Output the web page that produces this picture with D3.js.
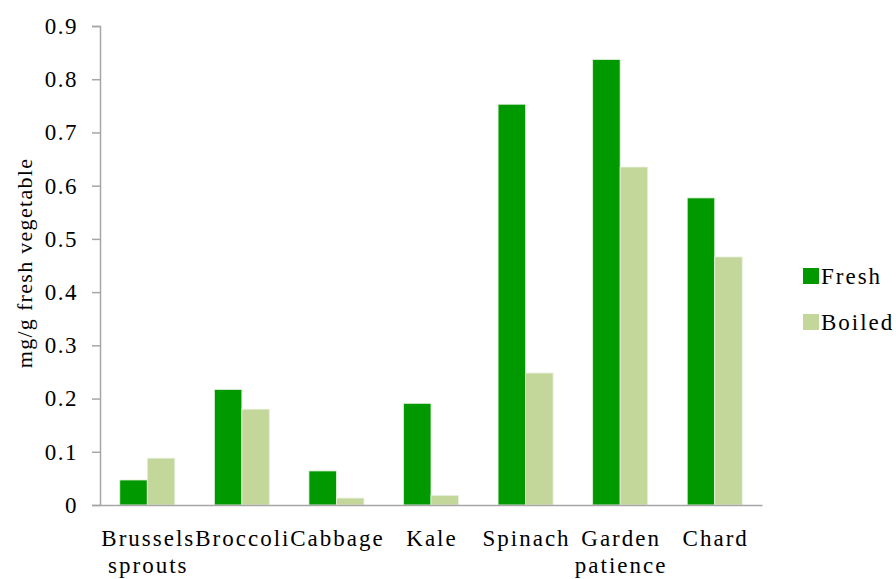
<!DOCTYPE html>
<html>
<head>
<meta charset="utf-8">
<script src="https://cdn.jsdelivr.net/npm/d3@7/dist/d3.min.js"></script>
<style>
  body { margin: 0; background: #fff; }
</style>
</head>
<body>
<svg id="chart" width="896" height="579"></svg>
<script>
// Vegetable categories (multi-line labels split on "\n")
const categories = ["Brussels\nsprouts", "Broccoli", "Cabbage", "Kale", "Spinach", "Garden\npatience", "Chard"];
const seriesNames = ["Fresh", "Boiled"];
const freshValues = [0.047, 0.217, 0.064, 0.191, 0.753, 0.837, 0.577];
const boiledValues = [0.088, 0.180, 0.013, 0.018, 0.248, 0.635, 0.466];
const yTicks = [0, 0.1, 0.2, 0.3, 0.4, 0.5, 0.6, 0.7, 0.8, 0.9];
const yTitle = "mg/g fresh vegetable";

const colors = { Fresh: "#009900", Boiled: "#c4d79b" };
const serif = "'Liberation Serif', 'DejaVu Serif', 'Times New Roman', serif";

const svg = d3.select("#chart");
const plotLeft = 100, plotRight = 762, plotTop = 26, plotBottom = 505;

const x0 = d3.scaleBand().domain(categories).range([plotLeft, plotRight]).padding(0);
const x1 = d3.scaleBand().domain(seriesNames).range([0, x0.bandwidth()])
  .paddingInner(0).paddingOuter(0.72);
const y = d3.scaleLinear().domain([0, 0.9]).range([plotBottom, plotTop]);

const rows = categories.map((c, i) => ({ cat: c, Fresh: freshValues[i], Boiled: boiledValues[i] }));

// Bars
const groups = svg.append("g").selectAll("g").data(rows).join("g")
  .attr("transform", d => `translate(${x0(d.cat)},0)`);
groups.selectAll("rect")
  .data(d => seriesNames.map(s => ({ s, v: d[s] })))
  .join("rect")
  .attr("x", d => x1(d.s))
  .attr("width", x1.bandwidth())
  .attr("y", d => y(d.v))
  .attr("height", d => y(0) - y(d.v))
  .attr("fill", d => colors[d.s])
  .attr("stroke", "#e6f0dc")
  .attr("stroke-width", 0.8);

// Y axis
const yAxis = svg.append("g").attr("transform", `translate(${plotLeft},0)`)
  .call(d3.axisLeft(y).tickValues(yTicks).tickSize(8).tickPadding(14)
    .tickFormat(d => d === 0 ? "0" : d3.format(".1f")(d)));
yAxis.select(".domain").attr("stroke", "#a6a6a6").attr("stroke-width", 1.5);
yAxis.selectAll(".tick line").attr("stroke", "#a6a6a6").attr("stroke-width", 1.5);
yAxis.selectAll(".tick text")
  .style("font-family", serif).style("font-size", "23px")
  .style("letter-spacing", "1.5px").attr("fill", "#000");

// X axis baseline
const xAxis = svg.append("g").attr("transform", `translate(0,${plotBottom})`)
  .call(d3.axisBottom(x0).tickSize(0).tickFormat(""));
xAxis.select(".domain").attr("stroke", "#a6a6a6").attr("stroke-width", 1.5);

// Category labels
svg.append("g").selectAll("text").data(categories).join("text")
  .attr("x", d => x0(d) + x0.bandwidth() / 2 + 1)
  .attr("y", 546)
  .attr("text-anchor", "middle")
  .style("font-family", serif).style("font-size", "23px").style("letter-spacing", "2px")
  .selectAll("tspan").data(d => d.split("\n")).join("tspan")
  .attr("x", function () { return d3.select(this.parentNode).attr("x"); })
  .attr("dy", (d, i) => i === 0 ? 0 : 27)
  .text(d => d);

// Y axis title
svg.append("text")
  .attr("transform", "translate(32,263) rotate(-90)")
  .attr("text-anchor", "middle")
  .style("font-family", serif).style("font-size", "22px").style("letter-spacing", "1.3px")
  .text(yTitle);

// Legend
const legend = svg.append("g").selectAll("g").data(seriesNames).join("g")
  .attr("transform", (d, i) => `translate(803,${268 + i * 46})`);
legend.append("rect").attr("width", 16).attr("height", 16).attr("fill", d => colors[d]);
legend.append("text").attr("x", 18).attr("y", 16)
  .style("font-family", serif).style("font-size", "23px").style("letter-spacing", "2px")
  .text(d => d);
</script>
</body>
</html>
